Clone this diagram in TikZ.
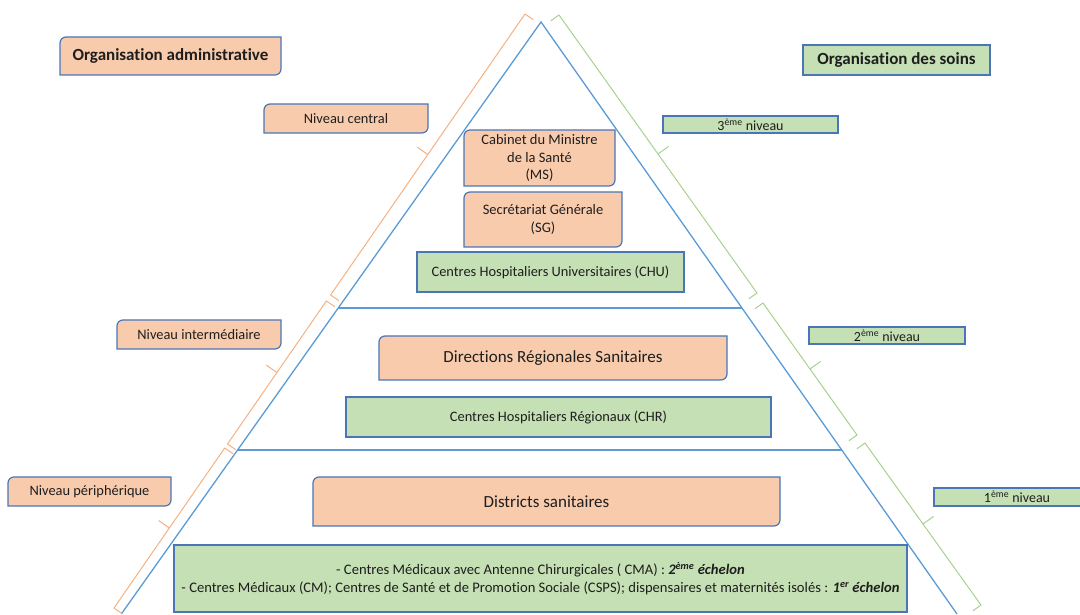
\documentclass[tikz,border=0pt]{standalone}
\usepackage{fontspec}
\setmainfont{Carlito}[Ligatures=NoCommon]
\usetikzlibrary{calc,backgrounds}
\pgfdeclarelayer{back}
\pgfsetlayers{back,background,main}
\definecolor{orfill}{HTML}{F8CBAD}
\definecolor{grfill}{HTML}{C5E0B4}
\definecolor{bline}{HTML}{4A76B8}
\definecolor{triline}{HTML}{5B9BD5}
\definecolor{obrk}{HTML}{F4B183}
\definecolor{gbrk}{HTML}{A9D18E}
\definecolor{txt}{HTML}{1E1E1E}
\tikzset{
  base/.style={inner sep=0pt, outer sep=0pt, align=center, text=txt, font=\fontsize{14.5}{17.5}\selectfont},
  orbox/.style={base},
  grbox/.style={base, draw=bline, line width=1.2pt, fill=grfill},
  tri/.style={draw=triline, line width=1.3pt},
  obr/.style={draw=obrk, line width=1pt},
  gbr/.style={draw=gbrk, line width=1pt},
  titlefont/.style={font=\bfseries\fontsize{17}{20}\selectfont},
  bigfont/.style={font=\fontsize{17}{20}\selectfont},
  midfont/.style={font=\fontsize{14.4}{17}\selectfont},
}
\newcommand{\rbox}[1]{%
  \begin{pgfonlayer}{background}
  \filldraw[draw=bline, line width=1.2pt, fill=orfill]
    (#1.north east) -- ([yshift=6pt]#1.south east)
    arc[start angle=0,end angle=-90,radius=6pt] -- (#1.south west)
    -- ([yshift=-6pt]#1.north west)
    arc[start angle=180,end angle=90,radius=6pt] -- cycle;
  \end{pgfonlayer}}
\newcommand{\brk}[5]{%
  \coordinate (bm) at ($(#1)!0.5!(#2)$);
  \draw[#3, line join=round] ($(#1)!10pt!#4:(#2)$) -- (#1) -- (#2) -- ($(#2)!10pt!#5:(#1)$);
  \draw[#3] (bm) -- ($(bm)!13pt!#5:(#2)$);}
\begin{document}
\begin{tikzpicture}[x=1pt,y=1pt]
\useasboundingbox (0,0) rectangle (1080,614);
% pyramid
\coordinate (apex) at (541,592);
\coordinate (bl) at (121.3,0);
\coordinate (br) at (957,0);
\coordinate (h1l) at (338.2,306);
\coordinate (h1r) at (742,306);
\coordinate (h2l) at (237.5,164);
\coordinate (h2r) at (842,164);
\begin{pgfonlayer}{back}
\draw[tri] (bl) -- (apex) -- (br);
\draw[tri] (h1l) -- (h1r);
\draw[tri] (h2l) -- (h2r);
% orange brackets
\coordinate (o1s) at (525,600); \coordinate (o1e) at (330.6,319);
\coordinate (o2s) at (326.4,313); \coordinate (o2e) at (227.5,170);
\coordinate (o3s) at (224.7,166); \coordinate (o3e) at (114,6);
\brk{o1s}{o1e}{obr}{90}{-90}
\brk{o2s}{o2e}{obr}{90}{-90}
\brk{o3s}{o3e}{obr}{90}{-90}
% green brackets
\coordinate (g1s) at (559,599); \coordinate (g1e) at (757,321);
\coordinate (g2s) at (763,311); \coordinate (g2e) at (857,179);
\coordinate (g3s) at (865,171); \coordinate (g3e) at (981,9);
\brk{g1s}{g1e}{gbr}{-90}{90}
\brk{g2s}{g2e}{gbr}{-90}{90}
\brk{g3s}{g3e}{gbr}{-90}{90}
\end{pgfonlayer}
% titles
\node[orbox, titlefont, minimum width=221pt, minimum height=38pt] (oa) at (170.5,558) {Organisation administrative};
\rbox{oa}
\node[grbox, titlefont, minimum width=187pt, minimum height=30pt] (os) at (896.5,554) {Organisation des soins};
% levels
\node[orbox, midfont, minimum width=164pt, minimum height=29pt] (nc) at (346,495.5) {Niveau central};
\rbox{nc}
\node[orbox, midfont, minimum width=164pt, minimum height=29pt] (ni) at (199,279.5) {Niveau intermédiaire};
\rbox{ni}
\node[orbox, midfont, minimum width=163pt, minimum height=29pt] (np) at (89.5,122.5) {Niveau périphérique};
\rbox{np}
\node[grbox, font=\fontsize{14}{16}\selectfont, minimum width=175pt, minimum height=17pt] (n3) at (750.5,489.5) {3\textsuperscript{ème} niveau};
\node[grbox, font=\fontsize{14}{16}\selectfont, minimum width=156pt, minimum height=17pt] (n2) at (887,278.5) {2\textsuperscript{ème} niveau};
\node[grbox, font=\fontsize{14}{16}\selectfont, minimum width=166pt, minimum height=18pt] (n1) at (1017,117) {1\textsuperscript{ème} niveau};
% pyramid content
\node[orbox, minimum width=151pt, minimum height=56pt] (cab) at (539.5,456) {Cabinet du Ministre\\de la Santé\\(MS)};
\rbox{cab}
\node[orbox, minimum width=158pt, minimum height=55pt] (sg) at (543,394.5) {Secrétariat Générale\\(SG)};
\rbox{sg}
\node[grbox, midfont, minimum width=267pt, minimum height=40pt] (chu) at (550.5,342) {Centres Hospitaliers Universitaires (CHU)};
\node[orbox, bigfont, minimum width=348pt, minimum height=44pt] (drs) at (553,256) {Directions Régionales Sanitaires};
\rbox{drs}
\node[grbox, midfont, minimum width=425pt, minimum height=40pt] (chr) at (558.5,197) {Centres Hospitaliers Régionaux (CHR)};
\node[orbox, bigfont, minimum width=467pt, minimum height=49pt] (ds) at (546.5,112.5) {Districts sanitaires};
\rbox{ds}
\node[grbox, font=\fontsize{14.6}{18}\selectfont, minimum width=733pt, minimum height=67pt] (bot) at (540.5,35.5) {- Centres Médicaux avec Antenne Chirurgicales ( CMA) : \textbf{\textit{2\textsuperscript{ème} échelon}}\\- Centres Médicaux (CM); Centres de Santé et de Promotion Sociale (CSPS); dispensaires et maternités isolés : \textbf{\textit{1\textsuperscript{er} échelon}}};
\end{tikzpicture}
\end{document}
